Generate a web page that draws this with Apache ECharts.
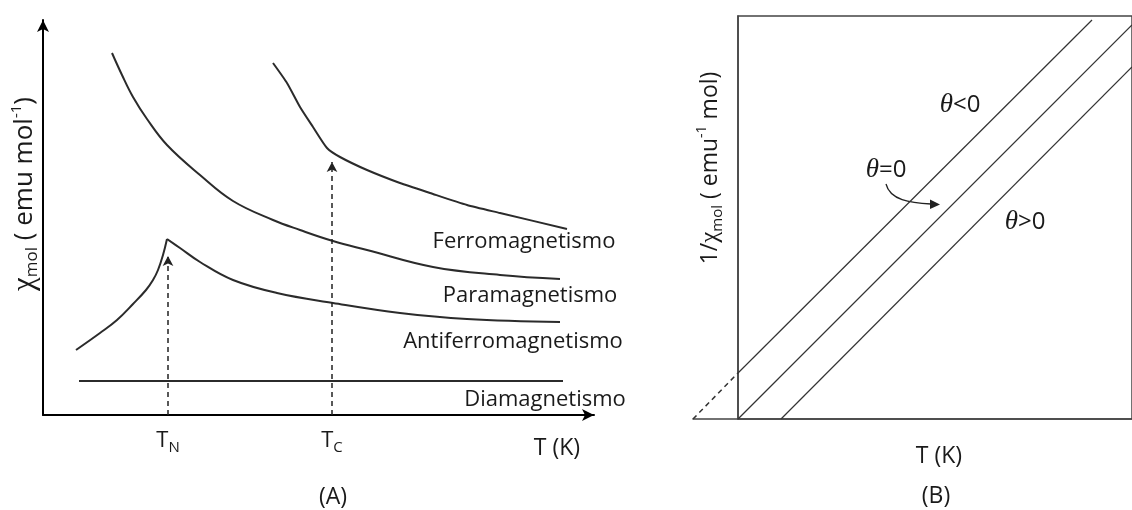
<!DOCTYPE html>
<html>
<head>
<meta charset="utf-8">
<script src="https://cdn.jsdelivr.net/npm/echarts@6/dist/echarts.min.js"></script>
<style>
  html, body { margin: 0; padding: 0; background: #fff; }
  #chart { width: 1132px; height: 510px; }
</style>
</head>
<body>
<div id="chart"></div>
<script>
// panel A : chi vs T (units = pixels from the axis origin)
var paraT   = [69, 79, 90, 104, 124, 157, 190, 230, 257, 290, 324, 390, 457, 517];
var paraChi = [362, 340, 318, 296, 270, 240, 214, 195, 185, 174, 165, 148, 140, 136];

var ferroT   = [230, 244, 257, 270, 284, 297, 324, 357, 387, 424, 457, 524];
var ferroChi = [352, 332, 308, 288, 267, 258, 245, 232, 222, 210, 202, 186];

var antiT   = [33, 57, 74, 90, 103, 110, 115, 120, 124, 137, 157, 190, 234, 290, 357, 424, 517];
var antiChi = [65, 82, 95, 111, 125, 135, 145, 160, 176, 167, 153, 135, 122, 112, 102, 96, 93];
var antiPeak = 8; // index of the Neel maximum

var diaT   = [36, 520];
var diaChi = [34, 34];

// transition temperatures and arrow heights
var tN = 125, tNchi = 159;
var tC = 289, tCchi = 253;

// panel B : 1/chi vs T
var negT = [0, 354],  negInv = [46, 399];
var negExtT = [-45, 0], negExtInv = [0, 46];
var zeroT = [0, 394], zeroInv = [0, 394];
var posT = [43, 394], posInv = [0, 352];

function zip(xs, ys) {
    var out = [];
    xs.forEach(function (x, i) { out.push([x, ys[i]]); });
    return out;
}

var chart = echarts.init(document.getElementById('chart'));
var txtFont = '"Open Sans", sans-serif';
var ink = '#1a1a1a';

function lbl(x, y, text, size, rich, rot) {
    return {
        type: 'text',
        x: x, y: y,
        rotation: rot || 0,
        style: {
            text: text,
            fill: ink,
            font: (size || 22) + 'px ' + txtFont,
            align: 'center', verticalAlign: 'middle',
            textAlign: 'center', textVerticalAlign: 'middle',
            rich: rich
        }
    };
}

var subRich = {
    m: { fontSize: 22, fontFamily: txtFont, color: ink, lineHeight: 28 },
    s: { fontSize: 15, fontFamily: txtFont, color: ink, lineHeight: 15, verticalAlign: 'bottom' }
};
var yRichA = {
    c: { fontSize: 31, fontFamily: 'Liberation Serif', color: ink, lineHeight: 32 },
    n: { fontSize: 26, fontFamily: txtFont, color: ink, lineHeight: 32 },
    s: { fontSize: 17, fontFamily: txtFont, color: ink, lineHeight: 17, verticalAlign: 'bottom' },
    p: { fontSize: 15, fontFamily: txtFont, color: ink, lineHeight: 15, verticalAlign: 'top' }
};
var yRichB = {
    c: { fontSize: 25, fontFamily: 'Liberation Serif', color: ink, lineHeight: 30 },
    n: { fontSize: 23, fontFamily: txtFont, color: ink, lineHeight: 30 },
    s: { fontSize: 15, fontFamily: txtFont, color: ink, lineHeight: 15, verticalAlign: 'bottom' },
    p: { fontSize: 14, fontFamily: txtFont, color: ink, lineHeight: 14, verticalAlign: 'top' }
};
var thRich = {
    t: { fontSize: 27, fontFamily: 'Liberation Serif', fontStyle: 'italic', color: ink },
    n: { fontSize: 24, fontFamily: txtFont, color: ink }
};

var curveStyle = { color: '#2b2b2b', width: 2 };
var thinStyle = { color: '#333', width: 1.2 };

var option = {
    backgroundColor: '#fff',
    animation: false,
    grid: [
        { left: 43, top: 20, width: 551, height: 395 },
        { left: 693, top: 16, width: 439, height: 403 },
        { left: 738, top: 16, width: 400, height: 403, show: true, borderColor: '#444', borderWidth: 1.5, backgroundColor: 'transparent' }
    ],
    xAxis: [
        {
            gridIndex: 0, type: 'value', min: 0, max: 551,
            axisLine: { show: true, symbol: ['none', 'arrow'], symbolSize: [9, 12], lineStyle: { color: '#000', width: 2 } },
            axisTick: { show: false }, axisLabel: { show: false }, splitLine: { show: false }
        },
        {
            gridIndex: 1, type: 'value', min: -45, max: 394,
            axisLine: { show: true, lineStyle: { color: '#444', width: 1.5 } },
            axisTick: { show: false }, axisLabel: { show: false }, splitLine: { show: false }
        },
        { gridIndex: 2, type: 'value', show: false, min: 0, max: 1 }
    ],
    yAxis: [
        {
            gridIndex: 0, type: 'value', min: 0, max: 395,
            axisLine: { show: true, symbol: ['none', 'arrow'], symbolSize: [9, 12], lineStyle: { color: '#000', width: 2 } },
            axisTick: { show: false }, axisLabel: { show: false }, splitLine: { show: false }
        },
        {
            gridIndex: 1, type: 'value', min: 0, max: 403,
            axisLine: { show: true, onZero: true, lineStyle: { color: '#444', width: 1.5 } },
            axisTick: { show: false }, axisLabel: { show: false }, splitLine: { show: false }
        },
        { gridIndex: 2, type: 'value', show: false, min: 0, max: 1 }
    ],
    series: [
        { name: 'Paramagnetismo', type: 'line', xAxisIndex: 0, yAxisIndex: 0, data: zip(paraT, paraChi),
          showSymbol: false, smooth: 0.4, lineStyle: curveStyle },
        { name: 'Ferromagnetismo', type: 'line', xAxisIndex: 0, yAxisIndex: 0, data: zip(ferroT, ferroChi),
          showSymbol: false, smooth: 0.2, lineStyle: curveStyle },
        { name: 'Antiferromagnetismo', type: 'line', xAxisIndex: 0, yAxisIndex: 0,
          data: zip(antiT, antiChi).slice(0, antiPeak + 1),
          showSymbol: false, smooth: 0.4, lineStyle: curveStyle },
        { name: 'Antiferromagnetismo', type: 'line', xAxisIndex: 0, yAxisIndex: 0,
          data: zip(antiT, antiChi).slice(antiPeak),
          showSymbol: false, smooth: 0.4, lineStyle: curveStyle },
        { name: 'Diamagnetismo', type: 'line', xAxisIndex: 0, yAxisIndex: 0, data: zip(diaT, diaChi),
          showSymbol: false, lineStyle: curveStyle,
          markLine: {
              silent: true, symbol: ['none', 'arrow'], symbolSize: [8, 10],
              label: { show: false },
              lineStyle: { type: [5, 4], color: '#222', width: 1.5 },
              data: [
                  [{ coord: [tN, 0] }, { coord: [tN, tNchi] }],
                  [{ coord: [tC, 0] }, { coord: [tC, tCchi] }]
              ]
          } },
        { name: 'theta<0', type: 'line', xAxisIndex: 1, yAxisIndex: 1, data: zip(negT, negInv),
          showSymbol: false, lineStyle: thinStyle },
        { name: 'theta<0 ext', type: 'line', xAxisIndex: 1, yAxisIndex: 1, data: zip(negExtT, negExtInv),
          showSymbol: false, lineStyle: { color: '#333', width: 1.5, type: [5, 4] } },
        { name: 'theta=0', type: 'line', xAxisIndex: 1, yAxisIndex: 1, data: zip(zeroT, zeroInv),
          showSymbol: false, lineStyle: thinStyle },
        { name: 'theta>0', type: 'line', xAxisIndex: 1, yAxisIndex: 1, data: zip(posT, posInv),
          showSymbol: false, lineStyle: thinStyle }
    ],
    graphic: [
        lbl(524, 242, 'Ferromagnetismo'),
        lbl(530, 296, 'Paramagnetismo'),
        lbl(513, 342, 'Antiferromagnetismo'),
        lbl(545, 400, 'Diamagnetismo'),
        lbl(168, 441, '{m|T}{s|N}', 22, subRich),
        lbl(332, 441, '{m|T}{s|C}', 22, subRich),
        lbl(557, 448, 'T (K)', 23),
        lbl(333, 497, '(A)', 23),
        lbl(25, 194, '{c|χ}{s|mol}{n| ( emu mol}{p|-1}{n|)}', 26, yRichA, Math.PI / 2),
        lbl(939, 456, 'T (K)', 23),
        lbl(936, 496, '(B)', 23),
        lbl(710, 168, '{n|1/}{c|χ}{s|mol}{n| ( emu}{p|-1}{n| mol)}', 23, yRichB, Math.PI / 2),
        lbl(960, 105, '{t|θ}{n|<0}', 24, thRich),
        lbl(886, 170, '{t|θ}{n|=0}', 24, thRich),
        lbl(1025, 222, '{t|θ}{n|>0}', 24, thRich),
        {
            type: 'bezierCurve',
            shape: { x1: 886, y1: 184, cpx1: 890, cpy1: 200, cpx2: 910, cpy2: 203, x2: 931, y2: 204 },
            style: { stroke: '#222', lineWidth: 1.3, fill: null }
        },
        {
            type: 'polygon',
            shape: { points: [[940, 204.5], [930, 199.5], [930, 209]] },
            style: { fill: '#222' }
        }
    ]
};

chart.setOption(option);
</script>
</body>
</html>
